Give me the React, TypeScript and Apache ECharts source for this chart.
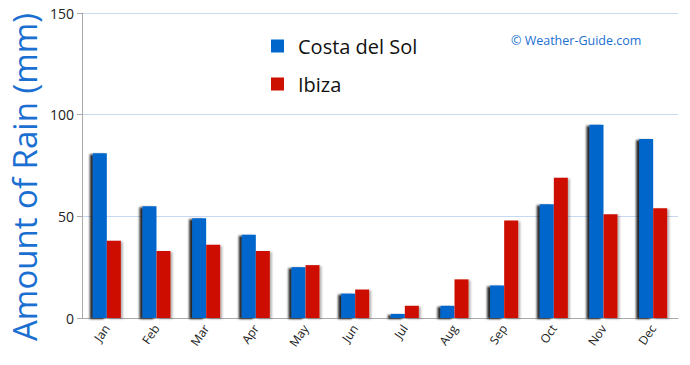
import React, { useEffect, useRef } from "react";
import * as echarts from "echarts";

const months = ["Jan", "Feb", "Mar", "Apr", "May", "Jun", "Jul", "Aug", "Sep", "Oct", "Nov", "Dec"];
const costaDelSol = [81, 55, 49, 41, 25, 12, 2, 6, 16, 56, 95, 88];
const ibiza = [38, 33, 36, 33, 26, 14, 6, 19, 48, 69, 51, 54];
const yTicks = { min: 0, max: 150, interval: 50 };
const yTitle = "Amount of Rain (mm)";

const FONT = "'Comic Sans MS', 'Open Sans', 'DejaVu Sans', sans-serif";

export default function App() {
  const ref = useRef<HTMLDivElement>(null);
  useEffect(() => {
    if (!ref.current) return;
    const chart = echarts.init(ref.current, null, { renderer: "svg" });
    chart.setOption({
      animation: false,
      backgroundColor: "#ffffff",
      grid: { left: 82, right: 12, top: 13, bottom: 47 },
      legend: {
        orient: "vertical",
        left: 266,
        top: 31,
        itemWidth: 13,
        itemHeight: 13,
        itemGap: 18,
        icon: "rect",
        textStyle: { fontFamily: FONT, fontSize: 20, color: "#111", padding: [0, 0, 0, 9] },
        data: ["Costa del Sol", "Ibiza"],
      },
      graphic: [
        {
          type: "text",
          left: 511,
          top: 34,
          style: { text: "© Weather-Guide.com", fontFamily: FONT, fontSize: 12.5, fill: "#1a6fd1" },
        },
        {
          type: "text",
          x: 24,
          y: 177,
          rotation: Math.PI / 2,
          style: {
            text: yTitle,
            fontFamily: FONT,
            fontSize: 33,
            fill: "#1a6fd1",
            align: "center",
            verticalAlign: "middle",
          },
        },
      ],
      xAxis: {
        type: "category",
        data: months,
        axisLine: { lineStyle: { color: "#aaa" } },
        axisTick: { lineStyle: { color: "#aaa" }, length: 5 },
        axisLabel: { rotate: 55, fontSize: 12, color: "#222", fontFamily: FONT, margin: 8 },
      },
      yAxis: {
        type: "value",
        min: yTicks.min,
        max: yTicks.max,
        interval: yTicks.interval,
        axisLine: { show: true, lineStyle: { color: "#aaa" } },
        axisTick: { show: true, length: 5, lineStyle: { color: "#aaa" } },
        axisLabel: { fontSize: 14, color: "#222", fontFamily: FONT, margin: 8 },
        splitLine: { lineStyle: { color: "#c6d9f0" } },
      },
      series: [
        {
          name: "Costa del Sol",
          type: "bar",
          data: costaDelSol,
          barWidth: 14,
          barGap: "0%",
          itemStyle: {
            color: "#0066cc",
            shadowColor: "rgba(0,0,0,0.85)",
            shadowBlur: 2,
            shadowOffsetX: -3,
            shadowOffsetY: 1,
          },
        },
        {
          name: "Ibiza",
          type: "bar",
          data: ibiza,
          barWidth: 14,
          barGap: "0%",
          itemStyle: {
            color: "#cc1100",
            shadowColor: "rgba(0,0,0,0.3)",
            shadowBlur: 2,
            shadowOffsetX: 2,
            shadowOffsetY: 1,
          },
        },
      ],
    });
    return () => chart.dispose();
  }, []);
  return <div ref={ref} style={{ width: 690, height: 365, position: "absolute", left: 0, top: 0 }} />;
}
